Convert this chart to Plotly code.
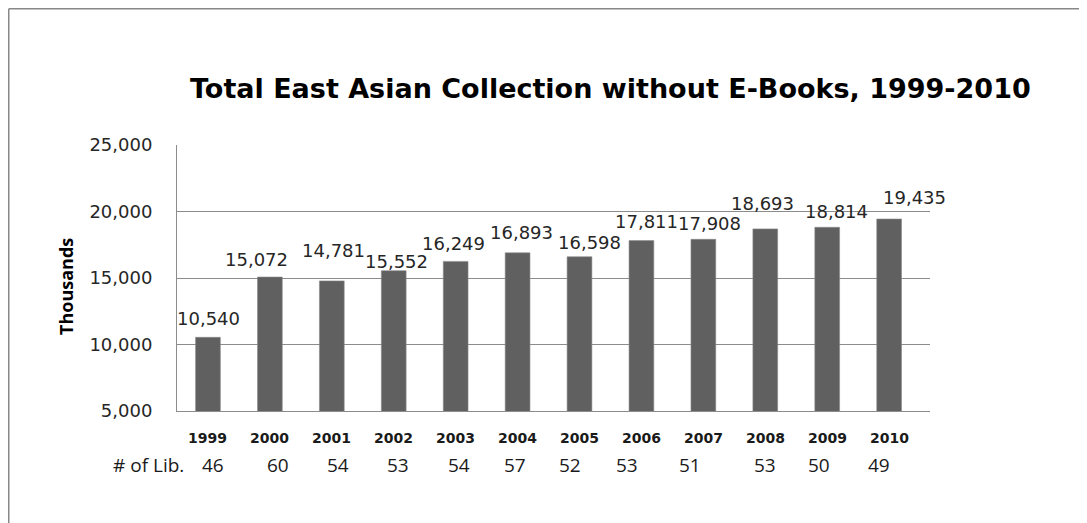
import plotly.graph_objects as go

# ---- data ----
years = [1999, 2000, 2001, 2002, 2003, 2004, 2005, 2006, 2007, 2008, 2009, 2010]
collection_thousands = [10540, 15072, 14781, 15552, 16249, 16893, 16598, 17811, 17908, 18693, 18814, 19435]
num_libraries = [46, 60, 54, 53, 54, 57, 52, 53, 51, 53, 50, 49]
title_text = "Total East Asian Collection without E-Books, 1999-2010"
y_title = "Thousands"
lib_row_label = "# of Lib."
y_ticks = [5000, 10000, 15000, 20000, 25000]

# ---- styling (label nudges, in pixels) ----
label_dx = [1, -13, 2, 3, -2, 4, 10, 5, 6, -3, 9, 25]
label_dy = [19, 18, 30, 9, 18, 20, 14, 19, 16, 25, 16, 22]
lib_dx = [5, 8, 6, 4, 3, -3, -10, -14, -13, 0, -8, -10]

OFF = 8  # page body margin
W, H = 1087 - OFF, 523 - OFF
# plot area in page pixels
PL, PR, PT, PB = 177, 930, 145, 411
L, R, T, B = PL - OFF, PR - OFF, PT - OFF, PB - OFF


def px_x(px):  # page pixel -> paper x
    return (px - OFF - L) / (R - L)


def px_y(py):  # page pixel -> paper y
    return (B - (py - OFF)) / (B - T)


num_font = "DejaVu Sans"
txt_font = "Open Sans"

fig = go.Figure()
fig.add_trace(go.Bar(
    x=years, y=collection_thousands, width=0.4,
    marker=dict(color="#606060", line=dict(color="#8a8a8a", width=0.6)),
    hoverinfo="x+y", showlegend=False,
))

annotations = []
# data labels
for yr, v, dx, dy in zip(years, collection_thousands, label_dx, label_dy):
    annotations.append(dict(
        x=yr, y=v, xref="x", yref="y", text=f"{v:,}", showarrow=False,
        xanchor="center", yanchor="middle", xshift=dx, yshift=dy,
        font=dict(family=num_font, size=18, color="#262626"),
    ))
# year labels
for yr in years:
    annotations.append(dict(
        x=yr, y=px_y(438), xref="x", yref="paper", text=str(yr), showarrow=False,
        xanchor="center", yanchor="middle",
        font=dict(family=num_font, size=14, color="#1a1a1a", weight="bold"),
    ))
# number of libraries row
for yr, n, dx in zip(years, num_libraries, lib_dx):
    annotations.append(dict(
        x=yr, y=px_y(465), xref="x", yref="paper", text=str(n), showarrow=False,
        xanchor="center", yanchor="middle", xshift=dx,
        font=dict(family=txt_font, size=19, color="#1a1a1a"),
    ))
annotations.append(dict(
    x=px_x(186), y=px_y(465), xref="paper", yref="paper", text=lib_row_label,
    showarrow=False, xanchor="right", yanchor="middle",
    font=dict(family=txt_font, size=19, color="#1a1a1a"),
))
# title
annotations.append(dict(
    x=px_x(610), y=px_y(88), xref="paper", yref="paper", text=f"<b>{title_text}</b>",
    showarrow=False, xanchor="center", yanchor="middle",
    font=dict(family=num_font, size=27, color="#000000"),
))
# y-axis title
annotations.append(dict(
    x=px_x(66), y=px_y(287), xref="paper", yref="paper", text=f"<b>{y_title}</b>",
    showarrow=False, xanchor="center", yanchor="middle", textangle=-90,
    font=dict(family=txt_font, size=18, color="#000000"),
))

# outer chart border (only top and left edges visible)
shapes = [
    dict(type="line", xref="paper", yref="paper", x0=px_x(8.75), x1=px_x(1120),
         y0=px_y(8.75), y1=px_y(8.75), line=dict(color="#888888", width=1.5)),
    dict(type="line", xref="paper", yref="paper", x0=px_x(8.75), x1=px_x(8.75),
         y0=px_y(8.75), y1=px_y(560), line=dict(color="#888888", width=1.5)),
]

fig.update_layout(
    width=W, height=H,
    margin=dict(l=L, r=W - R, t=T, b=H - B, pad=0),
    paper_bgcolor="white", plot_bgcolor="white",
    annotations=annotations, shapes=shapes,
    bargap=0.6,
    xaxis=dict(
        range=[1998.5, 2010.66], showticklabels=False, showgrid=False,
        zeroline=False, showline=True, linecolor="#8c8c8c", linewidth=1,
        ticks="", fixedrange=True,
    ),
    yaxis=dict(
        range=[5000, 25000], tickvals=y_ticks, ticktext=[f"{t:,}" for t in y_ticks],
        showgrid=True, gridcolor="#8c8c8c", gridwidth=1, zeroline=False,
        showline=True, linecolor="#8c8c8c", linewidth=1, ticks="",
        ticklabelstandoff=20,
        tickfont=dict(family=num_font, size=18, color="#262626"),
        fixedrange=True,
    ),
)

fig.write_html("out.html")
